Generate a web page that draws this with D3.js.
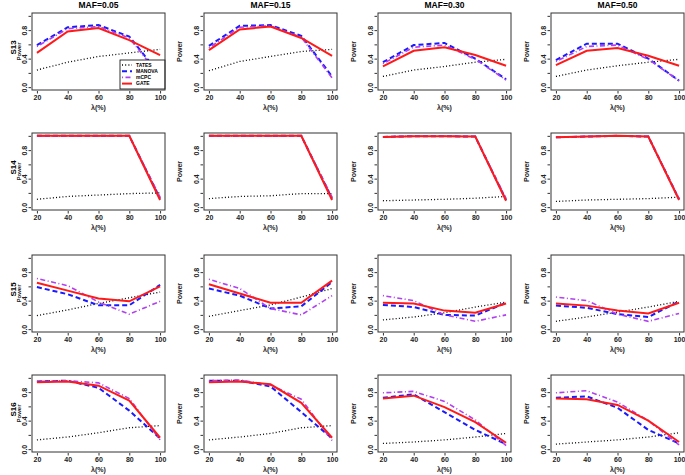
<!DOCTYPE html>
<html>
<head>
<meta charset="utf-8">
<script src="https://cdn.jsdelivr.net/npm/d3@7"></script>
<style>
  body { margin: 0; background: #fff; }
  svg { display: block; font-family: "Liberation Sans", Arial, sans-serif; }
</style>
</head>
<body>
<div id="chart"></div>
<script>
// lambda (%) on the x axis, one column per MAF, one row per scenario
const lambdaValues = [20, 40, 60, 80, 100];
const mafTitles = ["MAF=0.05", "MAF=0.15", "MAF=0.30", "MAF=0.50"];
const scenarioNames = ["S13", "S14", "S15", "S16"];
const methodNames = ["TATES", "MANOVA", "mCPC", "GATE"];
const yTickValues = [0, 0.2, 0.4, 0.6, 0.8, 1.0];

// power per scenario and method, one inner array per MAF column
const s13Tates  = [[0.24, 0.35, 0.43, 0.48, 0.53], [0.23, 0.36, 0.43, 0.50, 0.53], [0.15, 0.24, 0.29, 0.35, 0.39], [0.15, 0.24, 0.30, 0.35, 0.39]];
const s13Manova = [[0.59, 0.84, 0.87, 0.71, 0.17], [0.58, 0.86, 0.87, 0.72, 0.15], [0.35, 0.59, 0.62, 0.40, 0.11], [0.38, 0.61, 0.61, 0.40, 0.09]];
const s13Mcpc   = [[0.57, 0.82, 0.85, 0.69, 0.15], [0.55, 0.84, 0.86, 0.70, 0.13], [0.33, 0.56, 0.59, 0.39, 0.10], [0.36, 0.57, 0.59, 0.39, 0.09]];
const s13Gate   = [[0.48, 0.78, 0.83, 0.66, 0.45], [0.52, 0.81, 0.85, 0.69, 0.44], [0.29, 0.51, 0.56, 0.45, 0.30], [0.31, 0.51, 0.55, 0.44, 0.30]];

const s14Tates  = [[0.11, 0.15, 0.17, 0.19, 0.20], [0.12, 0.15, 0.16, 0.19, 0.19], [0.09, 0.10, 0.11, 0.125, 0.15], [0.08, 0.10, 0.11, 0.12, 0.14]];
const s14Manova = [[1.0, 1.0, 1.0, 1.0, 0.12], [1.0, 1.0, 1.0, 1.0, 0.12], [0.985, 0.995, 0.995, 0.99, 0.10], [0.98, 0.99, 1.0, 0.99, 0.11]];
const s14Mcpc   = [[1.0, 1.0, 1.0, 1.0, 0.14], [1.0, 1.0, 1.0, 1.0, 0.14], [0.985, 0.995, 0.995, 0.99, 0.12], [0.98, 0.99, 1.0, 0.99, 0.12]];
const s14Gate   = [[1.0, 1.0, 1.0, 1.0, 0.10], [1.0, 1.0, 1.0, 1.0, 0.10], [0.985, 0.995, 0.995, 0.99, 0.09], [0.98, 0.99, 1.0, 0.99, 0.10]];

const s15Tates  = [[0.19, 0.27, 0.36, 0.44, 0.52], [0.18, 0.26, 0.34, 0.45, 0.57], [0.13, 0.17, 0.23, 0.31, 0.38], [0.11, 0.17, 0.24, 0.31, 0.39]];
const s15Manova = [[0.59, 0.49, 0.335, 0.335, 0.62], [0.57, 0.47, 0.29, 0.32, 0.66], [0.34, 0.31, 0.20, 0.19, 0.37], [0.33, 0.30, 0.21, 0.17, 0.39]];
const s15Mcpc   = [[0.71, 0.61, 0.38, 0.21, 0.39], [0.70, 0.57, 0.29, 0.20, 0.47], [0.47, 0.40, 0.20, 0.11, 0.20], [0.45, 0.40, 0.21, 0.11, 0.22]];
const s15Gate   = [[0.65, 0.54, 0.43, 0.39, 0.60], [0.63, 0.50, 0.37, 0.37, 0.68], [0.37, 0.36, 0.26, 0.23, 0.36], [0.36, 0.33, 0.26, 0.22, 0.37]];

const s16Tates  = [[0.13, 0.17, 0.23, 0.30, 0.33], [0.13, 0.17, 0.22, 0.30, 0.33], [0.08, 0.10, 0.13, 0.17, 0.22], [0.07, 0.10, 0.13, 0.17, 0.23]];
const s16Manova = [[0.95, 0.96, 0.86, 0.54, 0.15], [0.96, 0.96, 0.88, 0.52, 0.15], [0.72, 0.77, 0.52, 0.27, 0.07], [0.72, 0.74, 0.58, 0.27, 0.08]];
const s16Mcpc   = [[0.95, 0.96, 0.93, 0.71, 0.13], [0.96, 0.97, 0.90, 0.70, 0.12], [0.79, 0.81, 0.67, 0.41, 0.05], [0.79, 0.82, 0.66, 0.40, 0.06]];
const s16Gate   = [[0.94, 0.95, 0.89, 0.68, 0.16], [0.94, 0.95, 0.91, 0.65, 0.16], [0.71, 0.75, 0.59, 0.38, 0.09], [0.71, 0.70, 0.62, 0.40, 0.10]];

const aScenarioData = [
    [s13Tates, s13Manova, s13Mcpc, s13Gate],
    [s14Tates, s14Manova, s14Mcpc, s14Gate],
    [s15Tates, s15Manova, s15Mcpc, s15Gate],
    [s16Tates, s16Manova, s16Mcpc, s16Gate]
];

// line style per method (same order as methodNames)
const aStyle = [
    { color: "#000000", width: 1.3, dash: "1,2.2" },
    { color: "#1a1aff", width: 2, dash: "5,3" },
    { color: "#b040f0", width: 1.6, dash: "1,2.5,5,2.5" },
    { color: "#ff1a1a", width: 2, dash: null }
];

const iWidth = 685, iHeight = 475;
const aLeft = [32, 204, 378, 551]; // box left per column
const aTop = [13, 133, 255, 375];  // box top per row
const iBoxW = 133, iBoxH = 77;

const d3Svg = d3.select("#chart").append("svg")
    .attr("width", iWidth)
    .attr("height", iHeight);

// R style: 4% padding around the data range
const d3X = d3.scaleLinear().domain([16.8, 103.2]).range([0, iBoxW]);
const d3Y = d3.scaleLinear().domain([-0.04, 1.04]).range([iBoxH, 0]);
const d3Line = d3.line().x((v, i) => d3X(lambdaValues[i])).y(v => d3Y(v));

// column titles
mafTitles.forEach((sTitle, c) => {
    d3Svg.append("text")
        .attr("x", aLeft[c] + iBoxW / 2)
        .attr("y", 8)
        .attr("text-anchor", "middle")
        .attr("font-size", "8.5px")
        .attr("font-weight", "bold")
        .text(sTitle);
});

for (let r = 0; r < scenarioNames.length; r++) {
    for (let c = 0; c < mafTitles.length; c++) {
        const g = d3Svg.append("g").attr("transform", `translate(${aLeft[c]},${aTop[r]})`);

        // x axis
        const gX = g.append("g")
            .attr("transform", `translate(0,${iBoxH + 1})`)
            .call(d3.axisBottom(d3X).tickValues(lambdaValues).tickSize(2.5).tickPadding(2).tickFormat(d3.format("d")));
        gX.select(".domain").remove();
        gX.selectAll("text").attr("font-size", "7px").attr("font-weight", "bold").attr("font-family", null).attr("fill", "#222");
        gX.selectAll("line").attr("stroke", "#333");

        // y axis, labels only on 0.0 / 0.4 / 0.8 like R drops the rest
        const gY = g.append("g")
            .attr("transform", "translate(-1,0)")
            .call(d3.axisLeft(d3Y).tickValues(yTickValues).tickSize(2.5)
                .tickFormat(v => (Math.round(v * 10) % 4 === 0) ? d3.format(".1f")(v) : ""));
        gY.select(".domain").remove();
        gY.selectAll("line").attr("stroke", "#333");
        gY.selectAll("text")
            .attr("font-size", "7px").attr("font-weight", "bold").attr("font-family", null).attr("fill", "#222")
            .attr("x", null).attr("dy", null)
            .attr("text-anchor", "middle")
            .attr("transform", "translate(-4,0) rotate(-90)");

        // axis titles
        g.append("text")
            .attr("x", iBoxW / 2)
            .attr("y", iBoxH + 20)
            .attr("text-anchor", "middle")
            .attr("font-size", "7px")
            .attr("font-weight", "bold")
            .attr("fill", "#222")
            .text("λ(%)");

        const iPowerX = c === 0 ? -11 : -22;
        g.append("text")
            .attr("transform", `translate(${iPowerX},${iBoxH / 2}) rotate(-90)`)
            .attr("text-anchor", "middle")
            .attr("font-size", c === 0 ? "6px" : "7px")
            .attr("font-weight", "bold")
            .attr("fill", "#222")
            .text("Power");
        if (c === 0) {
            g.append("text")
                .attr("transform", `translate(-16,${iBoxH / 2 - 4}) rotate(-90)`)
                .attr("text-anchor", "middle")
                .attr("font-size", "8px")
                .attr("font-weight", "bold")
                .text(scenarioNames[r]);
        }

        // series lines
        const aSeries = aScenarioData[r];
        aSeries.forEach((aMethod, m) => {
            const oStyle = aStyle[m];
            g.append("path")
                .attr("d", d3Line(aMethod[c]))
                .attr("fill", "none")
                .attr("stroke", oStyle.color)
                .attr("stroke-width", oStyle.width)
                .attr("stroke-dasharray", oStyle.dash);
        });

        // legend only in first panel
        if (r === 0 && c === 0) {
            const gL = g.append("g").attr("transform", `translate(${iBoxW - 45},${iBoxH - 30})`);
            gL.append("rect")
                .attr("width", 45).attr("height", 29)
                .attr("fill", "#fff").attr("stroke", "#000").attr("stroke-width", 0.8);
            methodNames.forEach((sName, m) => {
                const oStyle = aStyle[m];
                const iy = 5 + m * 6.2;
                gL.append("line")
                    .attr("x1", 2).attr("x2", 12).attr("y1", iy).attr("y2", iy)
                    .attr("stroke", oStyle.color)
                    .attr("stroke-width", oStyle.width)
                    .attr("stroke-dasharray", oStyle.dash);
                gL.append("text")
                    .attr("x", 16).attr("y", iy + 1.8)
                    .attr("font-size", "5px")
                    .attr("font-weight", "bold")
                    .text(sName);
            });
        }

        // plot box
        g.append("rect")
            .attr("width", iBoxW).attr("height", iBoxH)
            .attr("fill", "none").attr("stroke", "#333").attr("stroke-width", 1);
    }
}
</script>
</body>
</html>
